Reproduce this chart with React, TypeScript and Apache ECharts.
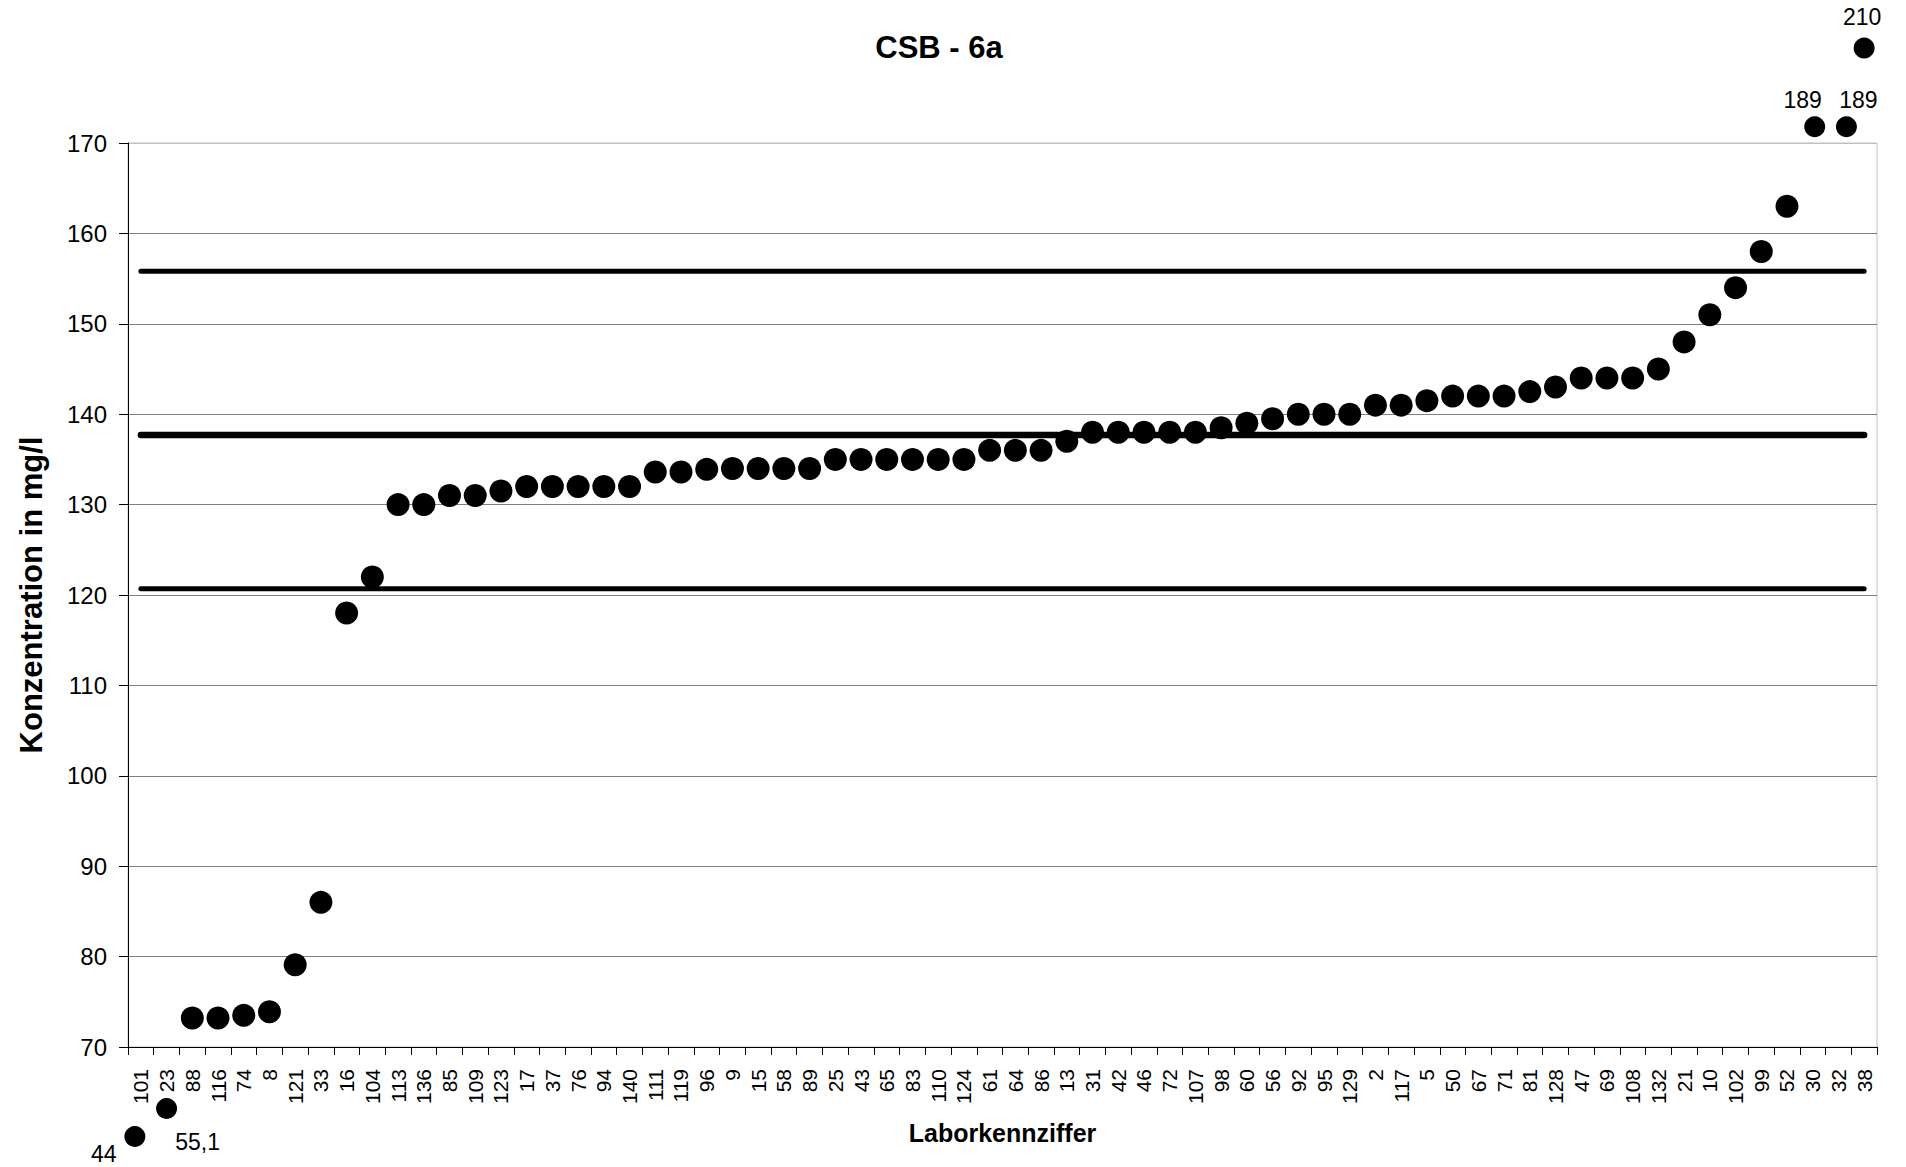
import React, { useEffect, useRef } from "react";
import * as echarts from "echarts";

const titleText = "CSB - 6a";
const yAxisName = "Konzentration in mg/l";
const xAxisName = "Laborkennziffer";

const categories = [
  "101", "23", "88", "116", "74", "8", "121", "33", "16", "104", "113", "136", "85", "109", "123",
  "17", "37", "76", "94", "140", "111", "119", "96", "9", "15", "58", "89", "25", "43", "65", "83",
  "110", "124", "61", "64", "86", "13", "31", "42", "46", "72", "107", "98", "60", "56", "92", "95",
  "129", "2", "117", "5", "50", "67", "71", "81", "128", "47", "69", "108", "132", "21", "10", "102",
  "99", "52", "30", "32", "38",
];

const values = [
  44, 55.1, 73.2, 73.2, 73.5, 73.9, 79.1, 86, 118, 122, 130, 130, 131, 131, 131.5,
  132, 132, 132, 132, 132, 133.6, 133.6, 133.9, 134, 134, 134, 134, 135, 135, 135, 135,
  135, 135, 136, 136, 136, 137, 138, 138, 138, 138, 138, 138.5, 139, 139.5, 140, 140,
  140, 141, 141, 141.5, 142, 142, 142, 142.5, 143, 144, 144, 144, 145, 148, 151, 154,
  158, 163, 189, 189, 210,
];

// reference lines
const upperLimit = 155.8;
const meanValue = 137.7;
const lowerLimit = 120.7;

// y-axis range and ticks
const yMin = 70;
const yMax = 170;
const yInterval = 10;

// off-scale results are drawn as markers just outside the plot, at these axis positions
const outlierCategories = ["101", "23", "30", "32", "38"];
const outlierMarkerPositions = [60.1, 63.2, 171.8, 171.8, 180.5];
const outlierSymbolShifts = [-6, 0, 2, 8, 0];
const outlierLabelOffsets = [
  [-31, 18],
  [31, 34],
  [-12, -27],
  [12, -27],
  [-2, -31],
];

const FONT = '"Liberation Sans", Arial, Helvetica, sans-serif';

function formatDe(v: number): string {
  return String(v).replace(".", ",");
}

export default function App() {
  const ref = useRef<HTMLDivElement>(null);

  useEffect(() => {
    if (!ref.current) return;
    const chart = echarts.init(ref.current, undefined, { renderer: "svg" });

    const mainData = values.map((v) => (v >= yMin && v <= yMax ? v : "-"));
    const outlierData = outlierCategories.map((c, i) => {
      const actual = values[categories.indexOf(c)];
      return {
        value: [c, outlierMarkerPositions[i]],
        symbolOffset: [outlierSymbolShifts[i], 0],
        label: {
          show: true,
          position: "inside",
          offset: outlierLabelOffsets[i],
          formatter: formatDe(actual),
          color: "#000",
          fontSize: 23,
          fontFamily: FONT,
        },
      };
    });

    const splitColors: string[] = [];
    for (let v = yMin; v <= yMax; v += yInterval) {
      splitColors.push(v === yMax ? "#c0c0c0" : "#808080");
    }

    const refLine = (name: string, val: number, width: number) => ({
      name,
      type: "line",
      data: categories.map(() => val),
      symbol: "none",
      lineStyle: { color: "#000", width, cap: "round", opacity: 1 },
      silent: true,
      z: 1,
    });

    chart.setOption({
      animation: false,
      backgroundColor: "#fff",
      textStyle: { fontFamily: FONT, color: "#000" },
      graphic: [
        {
          type: "text",
          x: 939,
          y: 47,
          style: {
            text: titleText,
            align: "center",
            verticalAlign: "middle",
            font: `bold 31px ${FONT}`,
            fill: "#000",
          },
        },
      ],
      grid: {
        left: 128,
        right: 29,
        top: 143,
        bottom: 120,
        show: true,
        borderColor: "#c0c0c0",
        borderWidth: 1,
        backgroundColor: "#fff",
      },
      xAxis: {
        type: "category",
        data: categories,
        boundaryGap: true,
        name: xAxisName,
        nameLocation: "middle",
        nameGap: 73,
        nameTextStyle: { fontSize: 25, fontWeight: "bold", color: "#000", fontFamily: FONT },
        axisLine: { lineStyle: { color: "#000", width: 1 } },
        axisTick: { show: true, inside: false, length: 8, lineStyle: { color: "#000" } },
        axisLabel: {
          interval: 0,
          rotate: 90,
          fontSize: 21,
          color: "#000",
          margin: 22,
          fontFamily: FONT,
        },
        splitLine: { show: false },
      },
      yAxis: {
        type: "value",
        min: yMin,
        max: yMax,
        interval: yInterval,
        name: yAxisName,
        nameLocation: "middle",
        nameRotate: 90,
        nameGap: 81,
        nameTextStyle: { fontSize: 31, fontWeight: "bold", color: "#000", fontFamily: FONT },
        axisLine: { show: true, lineStyle: { color: "#000", width: 1 } },
        axisTick: { show: true, inside: false, length: 9, lineStyle: { color: "#000" } },
        axisLabel: { fontSize: 24, color: "#000", margin: 21, fontFamily: FONT },
        splitLine: { show: true, lineStyle: { color: splitColors, width: 1 } },
      },
      series: [
        refLine("Obere Grenze", upperLimit, 5),
        refLine("Mittelwert", meanValue, 6.5),
        refLine("Untere Grenze", lowerLimit, 5),
        {
          name: "Werte",
          type: "scatter",
          data: mainData,
          symbol: "circle",
          symbolSize: 23,
          itemStyle: { color: "#000", opacity: 1 },
          z: 3,
        },
        {
          name: "Ausreißer",
          type: "scatter",
          data: outlierData,
          symbol: "circle",
          symbolSize: 21,
          clip: false,
          itemStyle: { color: "#000", opacity: 1 },
          z: 3,
        },
      ],
    });

    return () => chart.dispose();
  }, []);

  return (
    <div
      ref={ref}
      style={{ position: "fixed", left: 0, top: 0, width: 1906, height: 1167, background: "#fff" }}
    />
  );
}
